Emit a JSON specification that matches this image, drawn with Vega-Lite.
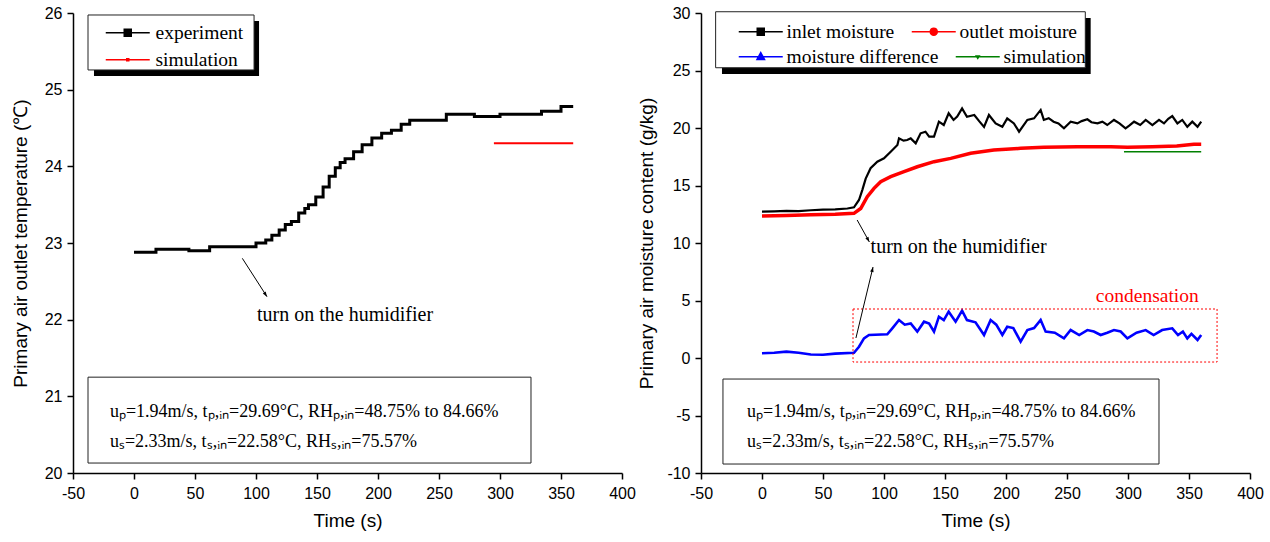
{
  "$schema": "https://vega.github.io/schema/vega-lite/v6.json",
  "background": "white",
  "padding": {"left": 11, "top": 5, "right": 5, "bottom": 5},
  "autosize": {"type": "pad"},
  "bounds": "flush",
  "spacing": 79,
  "resolve": {"scale": {"color": "independent", "stroke": "independent"}},
  "config": {
    "view": {"stroke": null},
    "font": "Liberation Sans",
    "axis": {
      "grid": false,
      "domainColor": "black", "domainWidth": 1.5,
      "tickColor": "black", "tickWidth": 1.5,
      "labelColor": "black", "labelFont": "Liberation Sans", "labelFontSize": 16,
      "titleColor": "black", "titleFont": "Liberation Sans", "titleFontSize": 19, "titleFontWeight": "normal",
      "labelOverlap": false, "labelFlush": false
    },
    "legend": {
      "labelFont": "Liberation Serif", "labelFontSize": 19.5, "labelColor": "black", "labelLimit": 0,
      "padding": 6, "rowPadding": 6,
      "symbolSize": 100, "symbolStrokeWidth": 1.5, "cornerRadius": 0
    }
  },
  "datasets": {
    "temperature": [
      {"series": "experiment", "t": 0, "v": 22.88},
      {"series": "experiment", "t": 18, "v": 22.92},
      {"series": "experiment", "t": 45, "v": 22.90},
      {"series": "experiment", "t": 62, "v": 22.95},
      {"series": "experiment", "t": 100, "v": 23.00},
      {"series": "experiment", "t": 108, "v": 23.04},
      {"series": "experiment", "t": 113, "v": 23.10},
      {"series": "experiment", "t": 119, "v": 23.17},
      {"series": "experiment", "t": 124, "v": 23.24},
      {"series": "experiment", "t": 129, "v": 23.28},
      {"series": "experiment", "t": 135, "v": 23.39},
      {"series": "experiment", "t": 140, "v": 23.45},
      {"series": "experiment", "t": 143, "v": 23.50},
      {"series": "experiment", "t": 149, "v": 23.60},
      {"series": "experiment", "t": 155, "v": 23.73},
      {"series": "experiment", "t": 160, "v": 23.87},
      {"series": "experiment", "t": 165, "v": 23.98},
      {"series": "experiment", "t": 169, "v": 24.05},
      {"series": "experiment", "t": 173, "v": 24.10},
      {"series": "experiment", "t": 180, "v": 24.19},
      {"series": "experiment", "t": 187, "v": 24.28},
      {"series": "experiment", "t": 195, "v": 24.37},
      {"series": "experiment", "t": 203, "v": 24.43},
      {"series": "experiment", "t": 211, "v": 24.47},
      {"series": "experiment", "t": 219, "v": 24.55},
      {"series": "experiment", "t": 226, "v": 24.60},
      {"series": "experiment", "t": 256, "v": 24.68},
      {"series": "experiment", "t": 279, "v": 24.65},
      {"series": "experiment", "t": 300, "v": 24.68},
      {"series": "experiment", "t": 334, "v": 24.72},
      {"series": "experiment", "t": 350, "v": 24.78},
      {"series": "experiment", "t": 360, "v": 24.78},
      {"series": "simulation", "t": 295, "v": 24.3},
      {"series": "simulation", "t": 360, "v": 24.3}
    ],
    "moisture": [
      {"series": "inlet moisture", "t": 0, "v": 12.72},
      {"series": "inlet moisture", "t": 10, "v": 12.75},
      {"series": "inlet moisture", "t": 20, "v": 12.8},
      {"series": "inlet moisture", "t": 30, "v": 12.78},
      {"series": "inlet moisture", "t": 40, "v": 12.85},
      {"series": "inlet moisture", "t": 50, "v": 12.9},
      {"series": "inlet moisture", "t": 60, "v": 12.92},
      {"series": "inlet moisture", "t": 70, "v": 13.0},
      {"series": "inlet moisture", "t": 75.4, "v": 13.1},
      {"series": "inlet moisture", "t": 79.5, "v": 13.74},
      {"series": "inlet moisture", "t": 82.2, "v": 14.6},
      {"series": "inlet moisture", "t": 85, "v": 15.6},
      {"series": "inlet moisture", "t": 89, "v": 16.5},
      {"series": "inlet moisture", "t": 94.5, "v": 17.07},
      {"series": "inlet moisture", "t": 100, "v": 17.36},
      {"series": "inlet moisture", "t": 105.5, "v": 17.94},
      {"series": "inlet moisture", "t": 111, "v": 18.52},
      {"series": "inlet moisture", "t": 112.3, "v": 19.1},
      {"series": "inlet moisture", "t": 116, "v": 18.9},
      {"series": "inlet moisture", "t": 119, "v": 18.96},
      {"series": "inlet moisture", "t": 121.9, "v": 19.1},
      {"series": "inlet moisture", "t": 126, "v": 18.67},
      {"series": "inlet moisture", "t": 130, "v": 19.54},
      {"series": "inlet moisture", "t": 134, "v": 19.68},
      {"series": "inlet moisture", "t": 137, "v": 19.25},
      {"series": "inlet moisture", "t": 141, "v": 19.25},
      {"series": "inlet moisture", "t": 145, "v": 20.55},
      {"series": "inlet moisture", "t": 149, "v": 20.26},
      {"series": "inlet moisture", "t": 153, "v": 21.28},
      {"series": "inlet moisture", "t": 157, "v": 20.7},
      {"series": "inlet moisture", "t": 160, "v": 21.0},
      {"series": "inlet moisture", "t": 164, "v": 21.71},
      {"series": "inlet moisture", "t": 168, "v": 20.98},
      {"series": "inlet moisture", "t": 174, "v": 21.13},
      {"series": "inlet moisture", "t": 178, "v": 20.6},
      {"series": "inlet moisture", "t": 182, "v": 20.1},
      {"series": "inlet moisture", "t": 186, "v": 21.13},
      {"series": "inlet moisture", "t": 191.5, "v": 20.4},
      {"series": "inlet moisture", "t": 197, "v": 20.1},
      {"series": "inlet moisture", "t": 201, "v": 20.84},
      {"series": "inlet moisture", "t": 206.5, "v": 20.4},
      {"series": "inlet moisture", "t": 210.7, "v": 19.68},
      {"series": "inlet moisture", "t": 217.5, "v": 20.7},
      {"series": "inlet moisture", "t": 223, "v": 20.84},
      {"series": "inlet moisture", "t": 228.4, "v": 21.57},
      {"series": "inlet moisture", "t": 231, "v": 20.7},
      {"series": "inlet moisture", "t": 235, "v": 20.85},
      {"series": "inlet moisture", "t": 239, "v": 20.55},
      {"series": "inlet moisture", "t": 243, "v": 20.4},
      {"series": "inlet moisture", "t": 247.5, "v": 19.97},
      {"series": "inlet moisture", "t": 253, "v": 20.55},
      {"series": "inlet moisture", "t": 258.5, "v": 20.4},
      {"series": "inlet moisture", "t": 262, "v": 20.6},
      {"series": "inlet moisture", "t": 266.7, "v": 20.76},
      {"series": "inlet moisture", "t": 270, "v": 20.5},
      {"series": "inlet moisture", "t": 275, "v": 20.4},
      {"series": "inlet moisture", "t": 279, "v": 20.55},
      {"series": "inlet moisture", "t": 283, "v": 20.26},
      {"series": "inlet moisture", "t": 288.5, "v": 20.7},
      {"series": "inlet moisture", "t": 293, "v": 20.4},
      {"series": "inlet moisture", "t": 298, "v": 19.97},
      {"series": "inlet moisture", "t": 301, "v": 20.2},
      {"series": "inlet moisture", "t": 305, "v": 20.55},
      {"series": "inlet moisture", "t": 310, "v": 20.26},
      {"series": "inlet moisture", "t": 314.5, "v": 20.7},
      {"series": "inlet moisture", "t": 320, "v": 20.26},
      {"series": "inlet moisture", "t": 325.4, "v": 20.7},
      {"series": "inlet moisture", "t": 329.5, "v": 20.4},
      {"series": "inlet moisture", "t": 333, "v": 20.8},
      {"series": "inlet moisture", "t": 336.3, "v": 21.04},
      {"series": "inlet moisture", "t": 340.5, "v": 20.4},
      {"series": "inlet moisture", "t": 344.5, "v": 20.7},
      {"series": "inlet moisture", "t": 348.6, "v": 20.1},
      {"series": "inlet moisture", "t": 352.7, "v": 20.55},
      {"series": "inlet moisture", "t": 357, "v": 20.1},
      {"series": "inlet moisture", "t": 360, "v": 20.55},
      {"series": "outlet moisture", "t": 0, "v": 12.35},
      {"series": "outlet moisture", "t": 20, "v": 12.4},
      {"series": "outlet moisture", "t": 40, "v": 12.45},
      {"series": "outlet moisture", "t": 60, "v": 12.5},
      {"series": "outlet moisture", "t": 75.4, "v": 12.58},
      {"series": "outlet moisture", "t": 80.9, "v": 13.0},
      {"series": "outlet moisture", "t": 86.3, "v": 14.03},
      {"series": "outlet moisture", "t": 91.8, "v": 14.75},
      {"series": "outlet moisture", "t": 97.3, "v": 15.33},
      {"series": "outlet moisture", "t": 105.5, "v": 15.77},
      {"series": "outlet moisture", "t": 116.4, "v": 16.2},
      {"series": "outlet moisture", "t": 127.3, "v": 16.63},
      {"series": "outlet moisture", "t": 141, "v": 17.07},
      {"series": "outlet moisture", "t": 154.7, "v": 17.36},
      {"series": "outlet moisture", "t": 171, "v": 17.8},
      {"series": "outlet moisture", "t": 190, "v": 18.09},
      {"series": "outlet moisture", "t": 212, "v": 18.23},
      {"series": "outlet moisture", "t": 231, "v": 18.32},
      {"series": "outlet moisture", "t": 258.5, "v": 18.38},
      {"series": "outlet moisture", "t": 286, "v": 18.38},
      {"series": "outlet moisture", "t": 299.5, "v": 18.32},
      {"series": "outlet moisture", "t": 320, "v": 18.38},
      {"series": "outlet moisture", "t": 340, "v": 18.43},
      {"series": "outlet moisture", "t": 354, "v": 18.58},
      {"series": "outlet moisture", "t": 360, "v": 18.58},
      {"series": "moisture difference", "t": 0, "v": 0.41},
      {"series": "moisture difference", "t": 10, "v": 0.45},
      {"series": "moisture difference", "t": 20, "v": 0.55},
      {"series": "moisture difference", "t": 30, "v": 0.45},
      {"series": "moisture difference", "t": 40, "v": 0.3},
      {"series": "moisture difference", "t": 50, "v": 0.28},
      {"series": "moisture difference", "t": 60, "v": 0.38},
      {"series": "moisture difference", "t": 75.4, "v": 0.46},
      {"series": "moisture difference", "t": 79.5, "v": 0.98},
      {"series": "moisture difference", "t": 83.6, "v": 1.71},
      {"series": "moisture difference", "t": 87.7, "v": 2.0},
      {"series": "moisture difference", "t": 102.7, "v": 2.06},
      {"series": "moisture difference", "t": 106.8, "v": 2.58},
      {"series": "moisture difference", "t": 112.3, "v": 3.3},
      {"series": "moisture difference", "t": 117, "v": 2.9},
      {"series": "moisture difference", "t": 121.9, "v": 3.01},
      {"series": "moisture difference", "t": 127.3, "v": 2.29},
      {"series": "moisture difference", "t": 132.8, "v": 3.16},
      {"series": "moisture difference", "t": 137, "v": 3.0},
      {"series": "moisture difference", "t": 141, "v": 2.29},
      {"series": "moisture difference", "t": 145, "v": 3.59},
      {"series": "moisture difference", "t": 149, "v": 3.3},
      {"series": "moisture difference", "t": 153, "v": 4.03},
      {"series": "moisture difference", "t": 158.7, "v": 3.16},
      {"series": "moisture difference", "t": 164, "v": 4.12},
      {"series": "moisture difference", "t": 168, "v": 3.3},
      {"series": "moisture difference", "t": 175, "v": 3.1},
      {"series": "moisture difference", "t": 182, "v": 2.0},
      {"series": "moisture difference", "t": 187.4, "v": 3.3},
      {"series": "moisture difference", "t": 192, "v": 2.9},
      {"series": "moisture difference", "t": 197, "v": 2.0},
      {"series": "moisture difference", "t": 201, "v": 2.72},
      {"series": "moisture difference", "t": 206, "v": 2.6},
      {"series": "moisture difference", "t": 212, "v": 1.42},
      {"series": "moisture difference", "t": 217.5, "v": 2.43},
      {"series": "moisture difference", "t": 223, "v": 2.6},
      {"series": "moisture difference", "t": 228.4, "v": 3.3},
      {"series": "moisture difference", "t": 232.5, "v": 2.29},
      {"series": "moisture difference", "t": 240, "v": 2.2},
      {"series": "moisture difference", "t": 247.5, "v": 1.71},
      {"series": "moisture difference", "t": 253, "v": 2.43},
      {"series": "moisture difference", "t": 260, "v": 2.0},
      {"series": "moisture difference", "t": 266.7, "v": 2.43},
      {"series": "moisture difference", "t": 272, "v": 2.3},
      {"series": "moisture difference", "t": 277.6, "v": 2.0},
      {"series": "moisture difference", "t": 283, "v": 2.2},
      {"series": "moisture difference", "t": 288.5, "v": 2.43},
      {"series": "moisture difference", "t": 294, "v": 2.3},
      {"series": "moisture difference", "t": 299.5, "v": 1.71},
      {"series": "moisture difference", "t": 307, "v": 2.2},
      {"series": "moisture difference", "t": 314.5, "v": 2.43},
      {"series": "moisture difference", "t": 321, "v": 2.0},
      {"series": "moisture difference", "t": 328, "v": 2.43},
      {"series": "moisture difference", "t": 336.3, "v": 2.58},
      {"series": "moisture difference", "t": 341, "v": 2.0},
      {"series": "moisture difference", "t": 345, "v": 2.3},
      {"series": "moisture difference", "t": 348.6, "v": 1.71},
      {"series": "moisture difference", "t": 352, "v": 2.1},
      {"series": "moisture difference", "t": 357, "v": 1.57},
      {"series": "moisture difference", "t": 360, "v": 2.0},
      {"series": "simulation", "t": 296.7, "v": 17.94},
      {"series": "simulation", "t": 360, "v": 17.94}
    ],
    "frames": [
      {"panel": "L", "kind": "shadow", "x": -32.8, "x2": 102.5, "y": 25.178, "y2": 25.896},
      {"panel": "L", "kind": "frame", "x": -37.7, "x2": 98.4, "y": 25.257, "y2": 25.974},
      {"panel": "R", "kind": "shadow", "x": -32.8, "x2": 269.4, "y": 24.7, "y2": 29.57},
      {"panel": "R", "kind": "frame", "x": -38, "x2": 265, "y": 25.24, "y2": 30.11}
    ],
    "boxes": [
      {"panel": "L", "kind": "params", "x": -37.7, "x2": 325.4, "y": 20.13, "y2": 21.25},
      {"panel": "R", "kind": "params", "x": -32, "x2": 325.4, "y": -9.22, "y2": -1.83},
      {"panel": "R", "kind": "condensation", "x": 74.6, "x2": 373, "y": -0.35, "y2": 4.26}
    ],
    "notes": [
      {"panel": "L", "kind": "params", "x": -19.7, "y": 20.73, "text": "uₚ=1.94m/s, tₚ,ᵢₙ=29.69°C, RHₚ,ᵢₙ=48.75%  to 84.66%"},
      {"panel": "L", "kind": "params", "x": -19.7, "y": 20.34, "text": "uₛ=2.33m/s, tₛ,ᵢₙ=22.58°C, RHₛ,ᵢₙ=75.57%"},
      {"panel": "L", "kind": "event", "x": 100.8, "y": 21.98, "text": "turn on the humidifier"},
      {"panel": "R", "kind": "params", "x": -12.3, "y": -5.13, "text": "uₚ=1.94m/s, tₚ,ᵢₙ=29.69°C, RHₚ,ᵢₙ=48.75%  to 84.66%"},
      {"panel": "R", "kind": "params", "x": -12.3, "y": -7.74, "text": "uₛ=2.33m/s, tₛ,ᵢₙ=22.58°C, RHₛ,ᵢₙ=75.57%"},
      {"panel": "R", "kind": "event", "x": 89, "y": 9.13, "text": "turn on the humidifier"},
      {"panel": "R", "kind": "condensation", "x": 358, "y": 4.87, "text": "condensation"}
    ],
    "arrows": [
      {"id": "L1", "x": 88.8, "y": 22.8, "x2": 109, "y2": 22.3},
      {"id": "R1", "x": 78, "y": 12.0, "x2": 88, "y2": 10.09},
      {"id": "R2", "x": 77, "y": 1.74, "x2": 91, "y2": 7.91}
    ]
  },
  "hconcat": [
    {
      "width": 549,
      "height": 460,
      "layer": [
        {
          "data": {"name": "temperature"},
          "transform": [{"filter": "datum.series === 'experiment'"}],
          "mark": {"type": "line", "interpolate": "step-after", "strokeWidth": 3},
          "encoding": {
            "x": {
              "field": "t", "type": "quantitative",
              "scale": {"domain": [-50, 400], "nice": false, "zero": false},
              "axis": {
                "title": "Time (s)",
                "values": [-50,-25,0,25,50,75,100,125,150,175,200,225,250,275,300,325,350,375,400],
                "labelExpr": "datum.value % 50 === 0 ? toString(datum.value) : ''",
                "tickSize": {"condition": {"test": "datum.value % 50 === 0", "value": 6}, "value": 3},
                "labelPadding": 6, "titlePadding": 10
              }
            },
            "y": {
              "field": "v", "type": "quantitative",
              "scale": {"domain": [20, 26], "nice": false, "zero": false},
              "axis": {
                "title": "Primary air outlet temperature (℃)",
                "values": [20,20.5,21,21.5,22,22.5,23,23.5,24,24.5,25,25.5,26],
                "labelExpr": "datum.value % 1 === 0 ? toString(datum.value) : ''",
                "tickSize": {"condition": {"test": "datum.value % 1 === 0", "value": 6}, "value": 3},
                "labelPadding": 5, "titlePadding": 14
              }
            },
            "color": {
              "field": "series", "type": "nominal",
              "scale": {"domain": ["experiment", "simulation"], "range": ["black", "red"]},
              "legend": {
                "orient": "none", "legendX": 15, "legendY": 4, "title": null,
                "symbolOffset": 7, "labelOffset": 35,
                "encode": {
                  "symbols": {
                    "update": {
                      "shape": [
                        {"test": "datum.value === 'experiment'", "value": "M-1,0H7.8M2.7,-0.7H4.1V0.7H2.7Z"},
                        {"value": "M-1,0H7.8M3.2,-0.2H3.6V0.2H3.2Z"}
                      ],
                      "fill": [
                        {"test": "datum.value === 'experiment'", "value": "black"},
                        {"value": "red"}
                      ]
                    }
                  }
                }
              }
            }
          }
        },
        {
          "data": {"name": "temperature"},
          "transform": [{"filter": "datum.series === 'simulation'"}],
          "mark": {"type": "line", "strokeWidth": 2},
          "encoding": {
            "x": {"field": "t", "type": "quantitative"},
            "y": {"field": "v", "type": "quantitative"},
            "color": {"field": "series", "type": "nominal"}
          }
        },
        {
          "data": {"name": "frames"},
          "transform": [{"filter": "datum.panel === 'L' && datum.kind === 'shadow'"}],
          "mark": {"type": "rect", "fill": "black", "stroke": "black", "strokeWidth": 0},
          "encoding": {
            "x": {"field": "x", "type": "quantitative"},
            "x2": {"field": "x2"},
            "y": {"field": "y", "type": "quantitative"},
            "y2": {"field": "y2"}
          }
        },
        {
          "data": {"name": "frames"},
          "transform": [{"filter": "datum.panel === 'L' && datum.kind === 'frame'"}],
          "mark": {"type": "rect", "fill": "white", "stroke": "#222", "strokeWidth": 1},
          "encoding": {
            "x": {"field": "x", "type": "quantitative"},
            "x2": {"field": "x2"},
            "y": {"field": "y", "type": "quantitative"},
            "y2": {"field": "y2"}
          }
        },
        {
          "data": {"name": "boxes"},
          "transform": [{"filter": "datum.panel === 'L'"}],
          "mark": {"type": "rect", "fill": "white", "fillOpacity": 0, "stroke": "#222", "strokeWidth": 1},
          "encoding": {
            "x": {"field": "x", "type": "quantitative"},
            "x2": {"field": "x2"},
            "y": {"field": "y", "type": "quantitative"},
            "y2": {"field": "y2"}
          }
        },
        {
          "data": {"name": "notes"},
          "transform": [{"filter": "datum.panel === 'L' && datum.kind === 'params'"}],
          "mark": {"type": "text", "align": "left", "baseline": "alphabetic", "font": "Liberation Serif", "fontSize": 18, "color": "black"},
          "encoding": {
            "x": {"field": "x", "type": "quantitative"},
            "y": {"field": "y", "type": "quantitative"},
            "text": {"field": "text"}
          }
        },
        {
          "data": {"name": "notes"},
          "transform": [{"filter": "datum.panel === 'L' && datum.kind === 'event'"}],
          "mark": {"type": "text", "align": "left", "baseline": "alphabetic", "font": "Liberation Serif", "fontSize": 20, "color": "black"},
          "encoding": {
            "x": {"field": "x", "type": "quantitative"},
            "y": {"field": "y", "type": "quantitative"},
            "text": {"field": "text"}
          }
        },
        {
          "data": {"name": "arrows"},
          "transform": [{"filter": "datum.id === 'L1'"}],
          "mark": {"type": "rule", "color": "black", "strokeWidth": 1},
          "encoding": {
            "x": {"field": "x", "type": "quantitative"},
            "y": {"field": "y", "type": "quantitative"},
            "x2": {"field": "x2"},
            "y2": {"field": "y2"}
          }
        },
        {
          "data": {"name": "arrows"},
          "transform": [{"filter": "datum.id === 'L1'"}],
          "mark": {"type": "point", "shape": "M0,0L-0.35,-1L0.35,-1Z", "filled": true, "color": "black", "opacity": 1, "size": 100, "angle": -33},
          "encoding": {
            "x": {"field": "x2", "type": "quantitative"},
            "y": {"field": "y2", "type": "quantitative"}
          }
        }
      ]
    },
    {
      "width": 549,
      "height": 460,
      "layer": [
        {
          "data": {"name": "moisture"},
          "transform": [{"filter": "datum.series === 'inlet moisture'"}],
          "mark": {"type": "line", "strokeWidth": 2.2},
          "encoding": {
            "x": {
              "field": "t", "type": "quantitative",
              "scale": {"domain": [-50, 400], "nice": false, "zero": false},
              "axis": {
                "title": "Time (s)",
                "values": [-50,-25,0,25,50,75,100,125,150,175,200,225,250,275,300,325,350,375,400],
                "labelExpr": "datum.value % 50 === 0 ? toString(datum.value) : ''",
                "tickSize": {"condition": {"test": "datum.value % 50 === 0", "value": 6}, "value": 3},
                "labelPadding": 6, "titlePadding": 10
              }
            },
            "y": {
              "field": "v", "type": "quantitative",
              "scale": {"domain": [-10, 30], "nice": false, "zero": false},
              "axis": {
                "title": "Primary air moisture content (g/kg)",
                "values": [-10,-7.5,-5,-2.5,0,2.5,5,7.5,10,12.5,15,17.5,20,22.5,25,27.5,30],
                "labelExpr": "datum.value % 5 === 0 ? toString(datum.value) : ''",
                "tickSize": {"condition": {"test": "datum.value % 5 === 0", "value": 6}, "value": 3},
                "labelPadding": 5, "titlePadding": 10
              }
            },
            "color": {
              "field": "series", "type": "nominal",
              "scale": {"domain": ["inlet moisture", "outlet moisture"], "range": ["black", "red"]},
              "legend": {
                "orient": "none", "legendX": 15, "legendY": 2.5, "title": null,
                "direction": "horizontal", "columns": 2, "columnPadding": -18,
                "symbolOffset": 12, "labelOffset": 33,
                "encode": {
                  "symbols": {
                    "update": {
                      "shape": [
                        {"test": "datum.value === 'inlet moisture'", "value": "M-1,0H7.8M2.7,-0.7H4.1V0.7H2.7Z"},
                        {"value": "M-1,0H7.8M4.1,0A0.7,0.7,0,1,1,2.7,0A0.7,0.7,0,1,1,4.1,0Z"}
                      ],
                      "fill": [
                        {"test": "datum.value === 'inlet moisture'", "value": "black"},
                        {"value": "red"}
                      ]
                    }
                  }
                }
              }
            }
          }
        },
        {
          "data": {"name": "moisture"},
          "transform": [{"filter": "datum.series === 'outlet moisture'"}],
          "mark": {"type": "line", "strokeWidth": 3.5},
          "encoding": {
            "x": {"field": "t", "type": "quantitative"},
            "y": {"field": "v", "type": "quantitative"},
            "color": {"field": "series", "type": "nominal"}
          }
        },
        {
          "data": {"name": "moisture"},
          "transform": [{"filter": "datum.series === 'moisture difference'"}],
          "mark": {"type": "line", "strokeWidth": 2.6},
          "encoding": {
            "x": {"field": "t", "type": "quantitative"},
            "y": {"field": "v", "type": "quantitative"},
            "stroke": {
              "field": "series", "type": "nominal",
              "scale": {"domain": ["moisture difference", "simulation"], "range": ["blue", "green"]},
              "legend": {
                "orient": "none", "legendX": 15, "legendY": 27.5, "title": null,
                "direction": "horizontal", "columns": 2, "columnPadding": -33,
                "symbolOffset": 12, "labelOffset": 33,
                "encode": {
                  "symbols": {
                    "update": {
                      "shape": [
                        {"test": "datum.value === 'moisture difference'", "value": "M-1,0H7.8M3.4,-0.8L4.15,0.55H2.65Z"},
                        {"value": "M-1,0H7.8M3.4,0.35L3.7,-0.15H3.1Z"}
                      ],
                      "fill": [
                        {"test": "datum.value === 'moisture difference'", "value": "blue"},
                        {"value": "green"}
                      ]
                    }
                  }
                }
              }
            }
          }
        },
        {
          "data": {"name": "moisture"},
          "transform": [{"filter": "datum.series === 'simulation'"}],
          "mark": {"type": "line", "strokeWidth": 1.5},
          "encoding": {
            "x": {"field": "t", "type": "quantitative"},
            "y": {"field": "v", "type": "quantitative"},
            "stroke": {"field": "series", "type": "nominal"}
          }
        },
        {
          "data": {"name": "frames"},
          "transform": [{"filter": "datum.panel === 'R' && datum.kind === 'shadow'"}],
          "mark": {"type": "rect", "fill": "black", "stroke": "black", "strokeWidth": 0},
          "encoding": {
            "x": {"field": "x", "type": "quantitative"},
            "x2": {"field": "x2"},
            "y": {"field": "y", "type": "quantitative"},
            "y2": {"field": "y2"}
          }
        },
        {
          "data": {"name": "frames"},
          "transform": [{"filter": "datum.panel === 'R' && datum.kind === 'frame'"}],
          "mark": {"type": "rect", "fill": "white", "stroke": "#222", "strokeWidth": 1},
          "encoding": {
            "x": {"field": "x", "type": "quantitative"},
            "x2": {"field": "x2"},
            "y": {"field": "y", "type": "quantitative"},
            "y2": {"field": "y2"}
          }
        },
        {
          "data": {"name": "boxes"},
          "transform": [{"filter": "datum.panel === 'R' && datum.kind === 'params'"}],
          "mark": {"type": "rect", "fill": "white", "fillOpacity": 0, "stroke": "#222", "strokeWidth": 1},
          "encoding": {
            "x": {"field": "x", "type": "quantitative"},
            "x2": {"field": "x2"},
            "y": {"field": "y", "type": "quantitative"},
            "y2": {"field": "y2"}
          }
        },
        {
          "data": {"name": "boxes"},
          "transform": [{"filter": "datum.panel === 'R' && datum.kind === 'condensation'"}],
          "mark": {"type": "rect", "fill": "white", "fillOpacity": 0, "stroke": "red", "strokeWidth": 1, "strokeDash": [2, 2]},
          "encoding": {
            "x": {"field": "x", "type": "quantitative"},
            "x2": {"field": "x2"},
            "y": {"field": "y", "type": "quantitative"},
            "y2": {"field": "y2"}
          }
        },
        {
          "data": {"name": "notes"},
          "transform": [{"filter": "datum.panel === 'R' && datum.kind === 'params'"}],
          "mark": {"type": "text", "align": "left", "baseline": "alphabetic", "font": "Liberation Serif", "fontSize": 18, "color": "black"},
          "encoding": {
            "x": {"field": "x", "type": "quantitative"},
            "y": {"field": "y", "type": "quantitative"},
            "text": {"field": "text"}
          }
        },
        {
          "data": {"name": "notes"},
          "transform": [{"filter": "datum.panel === 'R' && datum.kind === 'event'"}],
          "mark": {"type": "text", "align": "left", "baseline": "alphabetic", "font": "Liberation Serif", "fontSize": 20, "color": "black"},
          "encoding": {
            "x": {"field": "x", "type": "quantitative"},
            "y": {"field": "y", "type": "quantitative"},
            "text": {"field": "text"}
          }
        },
        {
          "data": {"name": "notes"},
          "transform": [{"filter": "datum.panel === 'R' && datum.kind === 'condensation'"}],
          "mark": {"type": "text", "align": "right", "baseline": "alphabetic", "font": "Liberation Serif", "fontSize": 19.5, "color": "red"},
          "encoding": {
            "x": {"field": "x", "type": "quantitative"},
            "y": {"field": "y", "type": "quantitative"},
            "text": {"field": "text"}
          }
        },
        {
          "data": {"name": "arrows"},
          "transform": [{"filter": "datum.id !== 'L1'"}],
          "mark": {"type": "rule", "color": "black", "strokeWidth": 1},
          "encoding": {
            "x": {"field": "x", "type": "quantitative"},
            "y": {"field": "y", "type": "quantitative"},
            "x2": {"field": "x2"},
            "y2": {"field": "y2"}
          }
        },
        {
          "data": {"name": "arrows"},
          "transform": [{"filter": "datum.id === 'R1'"}],
          "mark": {"type": "point", "shape": "M0,0L-0.35,-1L0.35,-1Z", "filled": true, "color": "black", "opacity": 1, "size": 100, "angle": -29},
          "encoding": {
            "x": {"field": "x2", "type": "quantitative"},
            "y": {"field": "y2", "type": "quantitative"}
          }
        },
        {
          "data": {"name": "arrows"},
          "transform": [{"filter": "datum.id === 'R2'"}],
          "mark": {"type": "point", "shape": "M0,0L-0.35,-1L0.35,-1Z", "filled": true, "color": "black", "opacity": 1, "size": 100, "angle": 193.5},
          "encoding": {
            "x": {"field": "x2", "type": "quantitative"},
            "y": {"field": "y2", "type": "quantitative"}
          }
        }
      ]
    }
  ]
}
